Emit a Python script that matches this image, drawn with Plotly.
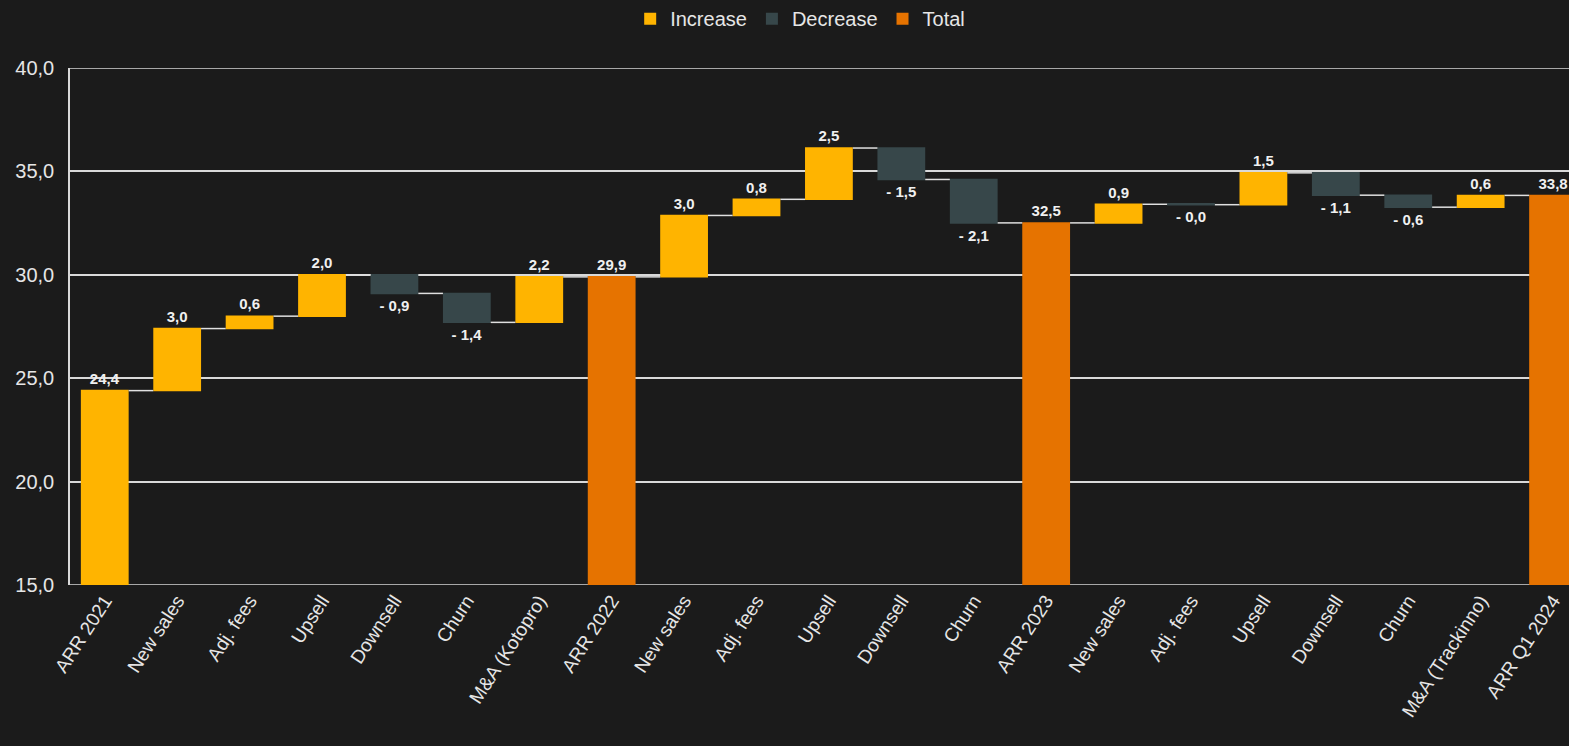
import plotly.graph_objects as go

categories = ["ARR 2021", "New sales", "Adj. fees", "Upsell", "Downsell", "Churn", "M&A (Kotopro)",
              "ARR 2022", "New sales ", "Adj. fees ", "Upsell ", "Downsell ", "Churn ", "ARR 2023",
              "New sales  ", "Adj. fees  ", "Upsell  ", "Downsell  ", "Churn  ", "M&A (Trackinno)", "ARR Q1 2024"]
tick_labels = ["ARR 2021", "New sales", "Adj. fees", "Upsell", "Downsell", "Churn", "M&A (Kotopro)",
               "ARR 2022", "New sales", "Adj. fees", "Upsell", "Downsell", "Churn", "ARR 2023",
               "New sales", "Adj. fees", "Upsell", "Downsell", "Churn", "M&A (Trackinno)", "ARR Q1 2024"]
measures = ["relative"] * 7 + ["total"] + ["relative"] * 5 + ["total"] + ["relative"] * 6 + ["total"]
values = [24.4, 3.0, 0.6, 2.0, -0.9, -1.4, 2.2, 0,
          2.97, 0.78, 2.48, -1.52, -2.1, 0,
          0.9, -0.02, 1.54, -1.08, -0.58, 0.57, 0]

C_INC = "#FFB400"
C_DEC = "#37474A"
C_TOT = "#E67300"
BG = "#1B1B1B"
FONT = "Liberation Sans, Arial, sans-serif"
GRID = "#D9D9D9"

# running totals for labels
texts = []
run = 0.0
for m, v in zip(measures, values):
    if m == "total":
        val = run
    else:
        run += v
        val = v
    s = f"{abs(val):.1f}".replace(".", ",")
    texts.append(("- " + s) if val < 0 else s)

fig = go.Figure()
fig.add_trace(go.Waterfall(
    x=categories, y=values, measure=measures,
    text=texts, textposition="outside",
    textfont=dict(color="#F0F0F0", size=15, family=FONT, weight="bold"),
    increasing=dict(marker=dict(color=C_INC)),
    decreasing=dict(marker=dict(color=C_DEC)),
    totals=dict(marker=dict(color=C_TOT)),
    connector=dict(line=dict(color="#E0E0E0", width=1.5)),
    width=0.66,
    showlegend=False,
    cliponaxis=False,
))
for name, col in [("Increase", C_INC), ("Decrease", C_DEC), ("Total", C_TOT)]:
    fig.add_trace(go.Scatter(x=[None], y=[None], mode="markers", name=name,
                             marker=dict(symbol="square", size=17, color=col)))

for yv in (15, 40):
    fig.add_shape(type="line", xref="paper", x0=0, x1=1, yref="y", y0=yv, y1=yv,
                  line=dict(color=GRID, width=1.5), layer="below")

fig.update_layout(
    width=1569, height=746,
    paper_bgcolor=BG, plot_bgcolor=BG,
    margin=dict(l=70, r=0, t=68, b=161),
    separators=",.",
    font=dict(family=FONT, color="#E6E6E6", size=20),
    legend=dict(orientation="h", x=0.51, xref="container", xanchor="center", y=0.975, yref="container",
                yanchor="middle", font=dict(size=20, color="#E6E6E6"), itemsizing="constant",
                itemwidth=30, tracegroupgap=0),
    xaxis=dict(range=[-0.48, 20.22], tickangle=-57, tickvals=categories, ticktext=tick_labels,
               showgrid=False, showline=False, ticks="", tickfont=dict(size=19, color="#E6E6E6")),
    yaxis=dict(range=[15, 40], dtick=5, tickformat=".1f", gridcolor=GRID, gridwidth=1.5,
               showline=True, linecolor=GRID, linewidth=1.5, zeroline=False,
               tickfont=dict(size=20, color="#E6E6E6"), ticks="", ticklabelstandoff=10),
)
fig.write_html("out.html", config={"displayModeBar": False},
               post_script="document.body.style.margin='0';document.body.style.background='#1B1B1B';")
